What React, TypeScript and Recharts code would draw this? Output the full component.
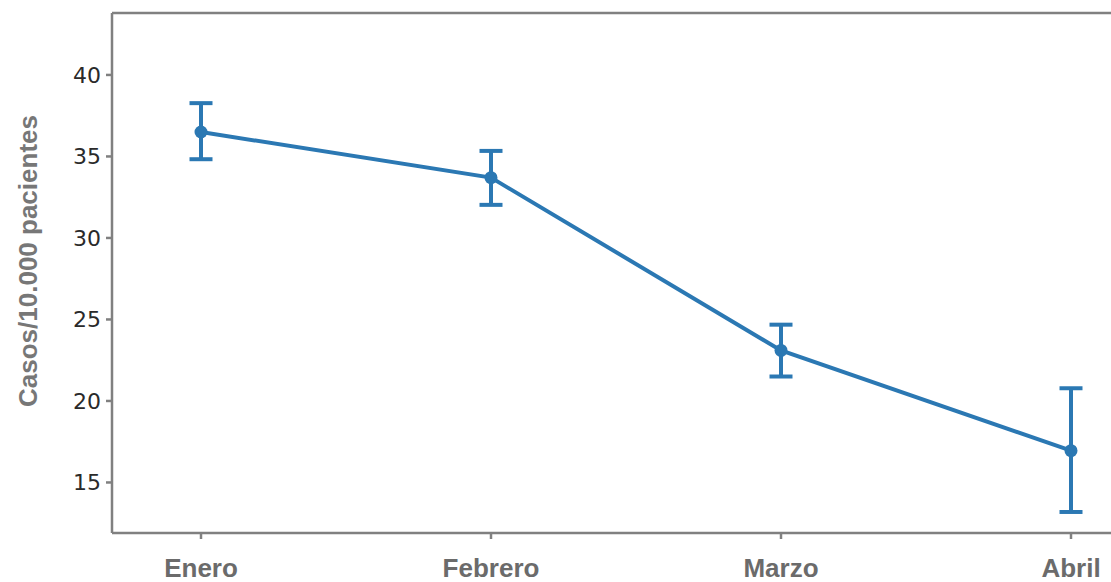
import { LineChart, Line, XAxis, YAxis, ErrorBar, ReferenceLine } from 'recharts';

const meses = ['Enero', 'Febrero', 'Marzo', 'Abril'];
const casos = [36.5, 33.7, 23.1, 16.95];
const limiteInferior = [34.83, 32.03, 21.5, 13.19];
const limiteSuperior = [38.27, 35.34, 24.68, 20.78];
const ticksY = [15, 20, 25, 30, 35, 40];
const yMin = 11.9;
const yMax = 43.8;

const data = meses.map((mes, i) => ({
  mes,
  casos: casos[i],
  error: [casos[i] - limiteInferior[i], limiteSuperior[i] - casos[i]],
}));

const azul = '#2b78b3';
const gris = '#808080';

function EtiquetaY() {
  const x = 37;
  const y = 261;
  return (
    <text
      x={x}
      y={y}
      transform={`rotate(-90, ${x}, ${y})`}
      textAnchor="middle"
      fill="#777777"
      fontFamily="'Liberation Sans', Arial, sans-serif"
      fontWeight="bold"
      fontSize={26}
    >
      Casos/10.000 pacientes
    </text>
  );
}

export default function App() {
  return (
    <div style={{ position: 'absolute', left: 0, top: 0, width: 1111, height: 582, overflow: 'hidden', background: '#fff' }}>
      <LineChart width={1135} height={582} data={data} margin={{ top: 13, right: 0, left: 0, bottom: 0 }}>
        <XAxis
          dataKey="mes"
          padding={{ left: 89, right: 64 }}
          height={49}
          stroke={gris}
          strokeWidth={2.5}
          tickSize={6}
          tickMargin={20}
          tick={{ fill: '#6b6b6b', fontSize: 26, fontWeight: 'bold', fontFamily: "'Liberation Sans', Arial, sans-serif" }}
        />
        <YAxis
          domain={[yMin, yMax]}
          ticks={ticksY}
          width={112}
          stroke={gris}
          strokeWidth={2.5}
          tickSize={6}
          tickMargin={5}
          allowDataOverflow
          tick={{ fill: '#2a2a2a', fontSize: 22, fontFamily: "'DejaVu Sans', sans-serif" }}
          label={<EtiquetaY />}
        />
        <ReferenceLine y={yMax} stroke={gris} strokeWidth={2.5} />
        <Line
          type="linear"
          dataKey="casos"
          stroke={azul}
          strokeWidth={4}
          dot={{ r: 6.5, fill: azul, stroke: azul, strokeWidth: 0 }}
          activeDot={false}
          isAnimationActive={false}
        >
          <ErrorBar dataKey="error" direction="y" width={11.5} strokeWidth={4} stroke={azul} />
        </Line>
      </LineChart>
    </div>
  );
}
